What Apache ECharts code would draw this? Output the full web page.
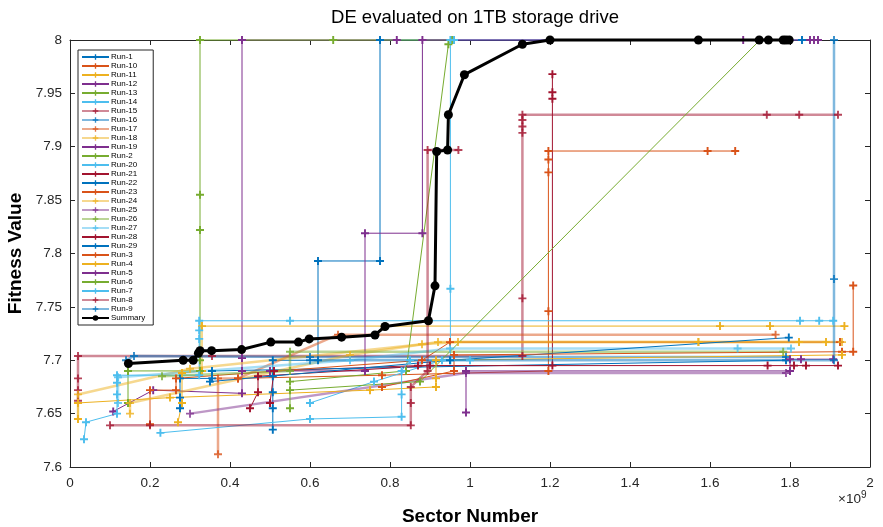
<!DOCTYPE html>
<html>
<head>
<meta charset="utf-8">
<script src="https://cdn.jsdelivr.net/npm/echarts@6/dist/echarts.min.js"></script>
<style>
html, body { margin: 0; padding: 0; background: #fff; }
#chart { width: 883px; height: 527px; }
</style>
</head>
<body>
<div id="chart"></div>
<script>
// x in units of 1e9 sectors, y = fitness
var run1 = [[0.507,7.635],[0.507,7.655],[0.507,7.67],[0.507,7.685],[0.507,7.70],[0.62,7.70],[0.62,7.793],[0.775,7.793],[0.775,8.0],[1.83,8.0]];
var run10 = [[0.42,7.683],[0.78,7.686],[1.196,7.69],[1.196,7.746],[1.196,7.876],[1.196,7.888],[1.196,7.896],[1.594,7.896],[1.663,7.896]];
var run11 = [[0.27,7.642],[0.28,7.66],[0.28,7.688],[0.33,7.69],[0.33,7.732],[1.625,7.732],[1.75,7.732],[1.936,7.732]];
var run12 = [[0.108,7.652],[0.208,7.672],[0.43,7.669],[0.43,7.69],[0.43,7.702],[0.43,8.0],[0.817,8.0]];
var run13 = [[0.145,7.66],[0.145,7.69],[0.325,7.69],[0.325,7.70],[0.325,7.822],[0.325,7.855],[0.325,8.0],[0.658,8.0],[0.96,8.0]];
var run14 = [[0.035,7.626],[0.04,7.642],[0.1175,7.65],[0.1175,7.668],[0.1175,7.679],[0.1175,7.686],[0.323,7.686],[0.323,7.72],[0.323,7.728],[0.323,7.737],[0.55,7.737],[1.825,7.737],[1.873,7.737],[1.908,7.737]];
var run15 = [[0.02,7.662],[0.02,7.672],[0.02,7.683],[0.02,7.704],[0.355,7.704],[1.131,7.704],[1.131,7.758],[1.131,7.913],[1.131,7.919],[1.131,7.925],[1.131,7.93],[1.742,7.93],[1.823,7.93],[1.92,7.93]];
var run16 = [[0.14,7.70],[0.16,7.704],[0.6,7.703],[1.79,7.703]];
var run17 = [[0.37,7.612],[0.37,7.683],[0.42,7.683],[0.67,7.724],[1.764,7.724]];
var run18 = [[0.02,7.645],[0.02,7.668],[0.3,7.692],[0.88,7.715],[0.97,7.717],[1.571,7.717],[1.8225,7.717],[1.89,7.717]];
var run19 = [[0.5,7.69],[0.7375,7.69],[0.7375,7.819],[0.881,7.819],[0.881,8.0],[1.683,8.0],[1.85,8.0],[1.86,8.0],[1.87,8.0]];
var run2 = [[0.55,7.68],[0.84,7.69],[0.946,7.996],[0.955,8.0]];
var run20 = [[0.6,7.66],[0.76,7.68],[0.93,7.70],[0.951,7.70],[0.951,7.767],[0.951,8.0],[0.96,8.0]];
var run21 = [[0.5,7.66],[0.51,7.69],[0.87,7.695],[1.206,7.695],[1.206,7.945],[1.206,7.951],[1.206,7.968]];
var run22 = [[0.275,7.655],[0.275,7.665],[0.275,7.683],[0.355,7.683],[0.355,7.69],[1.79,7.70]];
var run23 = [[0.2,7.64],[0.2,7.672],[0.265,7.672],[0.265,7.683],[0.88,7.70],[0.95,7.717],[1.925,7.717]];
var run24 = [[0.15,7.65],[0.15,7.66],[0.7,7.705],[0.92,7.717],[1.571,7.717],[1.8225,7.717],[1.89,7.717],[1.93,7.717]];
var run25 = [[0.3,7.65],[0.99,7.688],[1.79,7.688]];
var run26 = [[0.23,7.685],[0.55,7.69],[0.55,7.708],[1.783,7.708]];
var run27 = [[0.12,7.66],[0.12,7.684],[0.7,7.70],[0.95,7.711],[1.669,7.711],[1.8025,7.711]];
var run28 = [[0.45,7.655],[0.47,7.67],[0.47,7.685],[0.9,7.695],[1.744,7.695],[1.81,7.695],[1.84,7.695],[1.92,7.695]];
var run29 = [[0.35,7.68],[0.95,7.70],[1.797,7.7212]];
var run3 = [[0.78,7.675],[0.96,7.69],[0.96,7.705],[1.93,7.708],[1.958,7.708],[1.958,7.77]];
var run4 = [[0.02,7.645],[0.02,7.66],[0.25,7.665],[0.75,7.672],[0.915,7.675],[0.915,7.683],[0.915,7.70],[1.93,7.705]];
var run5 = [[0.99,7.651],[0.99,7.69],[1.8,7.69],[1.8,7.701],[1.8275,7.701],[1.908,7.701]];
var run6 = [[0.55,7.655],[0.55,7.672],[0.875,7.68],[1.725,8.0]];
var run7 = [[0.226,7.632],[0.6,7.645],[0.829,7.647],[0.829,7.668],[0.829,7.69],[0.85,7.70],[1.0,7.70]];
var run8 = [[0.1,7.639],[0.2,7.639],[0.852,7.639],[0.852,7.66],[0.852,7.675],[0.894,7.69],[0.894,7.897],[0.971,7.897]];
var run9 = [[0.6,7.70],[1.91,7.70],[1.91,7.776],[1.91,8.0]];
var summary = [[0.146,7.697],[0.283,7.700],[0.308,7.700],[0.321,7.7066],[0.325,7.709],[0.354,7.709],[0.429,7.710],[0.502,7.717],[0.571,7.717],[0.598,7.720],[0.679,7.7216],[0.7625,7.7237],[0.7875,7.7316],[0.896,7.737],[0.9125,7.7697],[0.9167,7.8956],[0.944,7.897],[0.946,7.93],[0.986,7.9675],[1.131,7.996],[1.2,8.0],[1.571,8.0],[1.723,8.0],[1.746,8.0],[1.783,8.0],[1.79,8.0],[1.798,8.0]];

var runNames = ['Run-1','Run-10','Run-11','Run-12','Run-13','Run-14','Run-15','Run-16','Run-17','Run-18','Run-19','Run-2','Run-20','Run-21','Run-22','Run-23','Run-24','Run-25','Run-26','Run-27','Run-28','Run-29','Run-3','Run-4','Run-5','Run-6','Run-7','Run-8','Run-9'];
var runData = [run1,run10,run11,run12,run13,run14,run15,run16,run17,run18,run19,run2,run20,run21,run22,run23,run24,run25,run26,run27,run28,run29,run3,run4,run5,run6,run7,run8,run9];
var faded = ['Run-15','Run-16','Run-17','Run-18','Run-24','Run-25','Run-26','Run-27','Run-8','Run-9'];
var palette = ['#0072BD','#D95319','#EDB120','#7E2F8E','#77AC30','#4DBEEE','#A2142F'];

var plus = 'path://M3.8,0H6.2V3.8H10V6.2H6.2V10H3.8V6.2H0V3.8H3.8Z';
var font = 'Liberation Sans, Helvetica, Arial, sans-serif';

var chart = echarts.init(document.getElementById('chart'));

var series = [];
for (var i = 0; i < runNames.length; i++) {
    var c = palette[i % 7];
    var f = faded.indexOf(runNames[i]) >= 0;
    series.push({
        name: runNames[i],
        type: 'line',
        data: runData[i],
        symbol: plus,
        symbolSize: 8,
        showAllSymbol: true,
        clip: false,
        animation: false,
        color: c,
        lineStyle: { color: c, width: f ? 2.5 : 1, opacity: f ? 0.5 : 1 },
        itemStyle: { color: c, opacity: f ? 0.8 : 1 },
        emphasis: { disabled: true }
    });
}
series.push({
    name: 'Summary',
    type: 'line',
    data: summary,
    symbol: 'circle',
    symbolSize: 9,
    showAllSymbol: true,
    clip: false,
    animation: false,
    color: '#000',
    lineStyle: { color: '#000', width: 3 },
    itemStyle: { color: '#000' },
    z: 5,
    emphasis: { disabled: true }
});

var axisCommon = {
    axisLine: { show: true, onZero: false, lineStyle: { color: '#262626', width: 1 } },
    axisTick: { show: true, inside: true, length: 5, lineStyle: { color: '#262626' } },
    splitLine: { show: false }
};

option = {
    animation: false,
    backgroundColor: '#fff',
    title: {
        text: 'DE evaluated on 1TB storage drive',
        left: 470,
        textAlign: 'center',
        top: 3,
        textStyle: { fontFamily: font, fontSize: 18.5, fontWeight: 'normal', color: '#000' }
    },
    grid: { left: 70, right: 13, top: 40, bottom: 60, outerBoundsMode: 'none', containLabel: false },
    legend: {
        data: runNames.concat(['Summary']),
        orient: 'vertical',
        left: 78,
        top: 50,
        itemWidth: 27,
        itemHeight: 7,
        itemGap: 1,
        padding: [3, 8, 3, 3],
        backgroundColor: '#fff',
        borderColor: '#262626',
        borderWidth: 1,
        textStyle: { fontFamily: font, fontSize: 8, color: '#000', padding: [0, 0, 0, -3] }
    },
    xAxis: [
        Object.assign({
            type: 'value', min: 0, max: 2, interval: 0.2, position: 'bottom',
            name: 'Sector Number', nameLocation: 'middle', nameGap: 40,
            nameTextStyle: { fontFamily: font, fontSize: 19, fontWeight: 'bold', color: '#000' },
            axisLabel: { fontFamily: font, fontSize: 13.5, color: '#262626', margin: 9 }
        }, axisCommon),
        Object.assign({
            type: 'value', min: 0, max: 2, interval: 0.2, position: 'top',
            axisLabel: { show: false }
        }, axisCommon)
    ],
    yAxis: [
        Object.assign({
            type: 'value', min: 7.6, max: 8, interval: 0.05, position: 'left',
            name: 'Fitness Value', nameLocation: 'middle', nameGap: 32,
            nameTextStyle: { fontFamily: font, fontSize: 19, fontWeight: 'bold', color: '#000' },
            axisLabel: { fontFamily: font, fontSize: 13.5, color: '#262626', margin: 8 }
        }, axisCommon),
        Object.assign({
            type: 'value', min: 7.6, max: 8, interval: 0.05, position: 'right',
            axisLabel: { show: false }
        }, axisCommon)
    ],
    graphic: [{
        type: 'text',
        left: 838,
        top: 490,
        style: {
            text: '×10{s|9}',
            fontFamily: font,
            fontSize: 13.5,
            fill: '#262626',
            rich: { s: { fontSize: 10, verticalAlign: 'top', padding: [0, 0, 8, 0] } }
        }
    }],
    series: series
};

chart.setOption(option);
window.addEventListener('resize', function() {
    chart.resize();
});
</script>
</body>
</html>
